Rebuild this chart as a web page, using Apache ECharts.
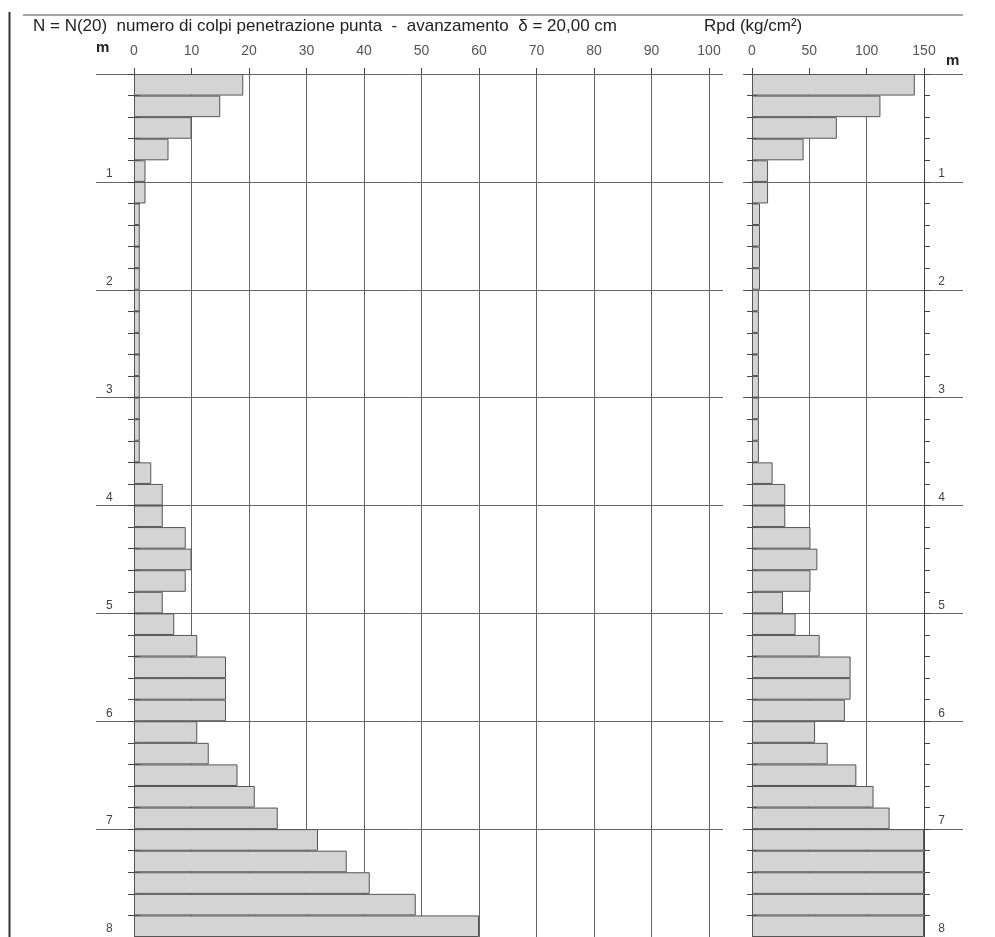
<!DOCTYPE html>
<html>
<head>
<meta charset="utf-8">
<script src="https://cdn.jsdelivr.net/npm/echarts@6/dist/echarts.min.js"></script>
<style>
  html, body { margin: 0; padding: 0; background: #fff; }
  #chart { width: 995px; height: 937px; }
</style>
</head>
<body>
<div id="chart"></div>
<script>
// depth intervals, 20 cm each
const depths = [
  '0.0-0.2', '0.2-0.4', '0.4-0.6', '0.6-0.8', '0.8-1.0',
  '1.0-1.2', '1.2-1.4', '1.4-1.6', '1.6-1.8', '1.8-2.0',
  '2.0-2.2', '2.2-2.4', '2.4-2.6', '2.6-2.8', '2.8-3.0',
  '3.0-3.2', '3.2-3.4', '3.4-3.6', '3.6-3.8', '3.8-4.0',
  '4.0-4.2', '4.2-4.4', '4.4-4.6', '4.6-4.8', '4.8-5.0',
  '5.0-5.2', '5.2-5.4', '5.4-5.6', '5.6-5.8', '5.8-6.0',
  '6.0-6.2', '6.2-6.4', '6.4-6.6', '6.6-6.8', '6.8-7.0',
  '7.0-7.2', '7.2-7.4', '7.4-7.6', '7.6-7.8', '7.8-8.0'
];
// N(20) blow counts
const nBlows = [
  19, 15, 10, 6, 2,
  2, 1, 1, 1, 1,
  1, 1, 1, 1, 1,
  1, 1, 1, 3, 5,
  5, 9, 10, 9, 5,
  7, 11, 16, 16, 16,
  11, 13, 18, 21, 25,
  32, 37, 41, 49, 60
];
// Rpd (kg/cm2), clipped at 150 on the plot
const rpd = [
  142, 112, 74, 45, 14,
  14, 7, 7, 7, 7,
  6, 6, 6, 6, 6,
  6, 6, 6, 18, 29,
  29, 51, 57, 51, 27,
  38, 59, 86, 86, 81,
  55, 66, 91, 106, 120,
  150, 150, 150, 150, 150
];
const nTicks = [0, 100, 10];     // min, max, step
const rpdTicks = [0, 150, 50];
const meterTicks = [0, 8, 1];

const TOP = 74, H = 866;
const FONT = 'Liberation Sans, Arial, sans-serif';
const LINE = '#666';
const TXT = '#444';
const BAR_FILL = '#d4d4d4';
const BAR_EDGE = '#555';

const chart = echarts.init(document.getElementById('chart'));

const catAxis = (grid, extra) => Object.assign({
  type: 'category',
  gridIndex: grid,
  position: 'left',
  data: depths,
  inverse: true,
  boundaryGap: true,
  axisLine: { show: false },
  axisLabel: { show: false },
  splitLine: { show: false },
  axisTick: { show: true, interval: 0, length: 6, lineStyle: { color: TXT } }
}, extra);

const meterAxis = (grid, pos, margin) => ({
  type: 'value',
  gridIndex: grid,
  position: pos,
  min: meterTicks[0],
  max: meterTicks[1],
  interval: meterTicks[2],
  inverse: true,
  axisLine: { show: false },
  axisTick: { show: false },
  axisLabel: {
    inside: true,
    margin: margin,
    verticalAlign: 'bottom',
    color: TXT,
    fontFamily: FONT,
    fontSize: 12,
    padding: [0, 0, 2, 0],
    formatter: v => (v === 0 ? '' : String(v))
  },
  splitLine: { show: true, lineStyle: { color: LINE, width: 1 } }
});

const valAxisTop = (grid, ticks) => ({
  type: 'value',
  gridIndex: grid,
  position: 'top',
  min: ticks[0],
  max: ticks[1],
  interval: ticks[2],
  axisLine: { show: false },
  axisTick: { show: true, length: 6, lineStyle: { color: TXT } },
  axisLabel: { margin: 16, color: '#555', fontFamily: FONT, fontSize: 14 },
  splitLine: { show: true, lineStyle: { color: LINE, width: 1 } }
});

const barStyle = {
  color: BAR_FILL,
  borderColor: BAR_EDGE,
  borderWidth: 1
};

const option = {
  animation: false,
  backgroundColor: '#fff',
  grid: [
    { left: 134, width: 575, top: TOP, height: H },
    { left: 96, width: 627, top: TOP, height: H },
    { left: 752, width: 172, top: TOP, height: H },
    { left: 743, width: 220, top: TOP, height: H }
  ],
  xAxis: [
    valAxisTop(0, nTicks),
    { type: 'value', gridIndex: 1, min: 0, max: 1, show: false },
    valAxisTop(2, rpdTicks),
    { type: 'value', gridIndex: 3, min: 0, max: 1, show: false }
  ],
  yAxis: [
    catAxis(0, { axisLine: { show: true, lineStyle: { color: TXT } } }),
    catAxis(0, { axisTick: { show: true, inside: true, interval: 0, length: 6, lineStyle: { color: TXT } } }),
    meterAxis(1, 'left', 10),
    catAxis(2, { axisLine: { show: true, lineStyle: { color: TXT } }, axisTick: { show: true, interval: 0, length: 5, lineStyle: { color: TXT } } }),
    catAxis(2, { axisTick: { show: true, inside: true, interval: 0, length: 5, lineStyle: { color: TXT } } }),
    catAxis(2, { position: 'right', axisLine: { show: true, lineStyle: { color: TXT } } }),
    meterAxis(3, 'right', 18)
  ],
  series: [
    {
      name: 'N(20)',
      type: 'bar',
      xAxisIndex: 0,
      yAxisIndex: 0,
      data: nBlows,
      barCategoryGap: '0%',
      itemStyle: barStyle,
      emphasis: { disabled: true }
    },
    {
      name: 'Rpd',
      type: 'bar',
      xAxisIndex: 2,
      yAxisIndex: 3,
      data: rpd,
      barCategoryGap: '0%',
      clip: true,
      itemStyle: barStyle,
      emphasis: { disabled: true }
    }
  ],
  graphic: [
    { type: 'line', shape: { x1: 23, y1: 15, x2: 963, y2: 15 }, style: { stroke: '#888', lineWidth: 1.5 } },
    { type: 'line', shape: { x1: 9.5, y1: 12, x2: 9.5, y2: 937 }, style: { stroke: '#333', lineWidth: 2 } },
    {
      type: 'text', left: 33, top: 18,
      style: { text: 'N = N(20)  numero di colpi penetrazione punta  -  avanzamento  δ = 20,00 cm', fill: '#222', font: '17px ' + FONT }
    },
    {
      type: 'text', left: 704, top: 18,
      style: { text: 'Rpd (kg/cm²)', fill: '#222', font: '17px ' + FONT }
    },
    {
      type: 'text', left: 96, top: 40,
      style: { text: 'm', fill: '#222', font: 'bold 15px ' + FONT }
    },
    {
      type: 'text', left: 946, top: 53,
      style: { text: 'm', fill: '#222', font: 'bold 15px ' + FONT }
    }
  ]
};

chart.setOption(option);
</script>
</body>
</html>
